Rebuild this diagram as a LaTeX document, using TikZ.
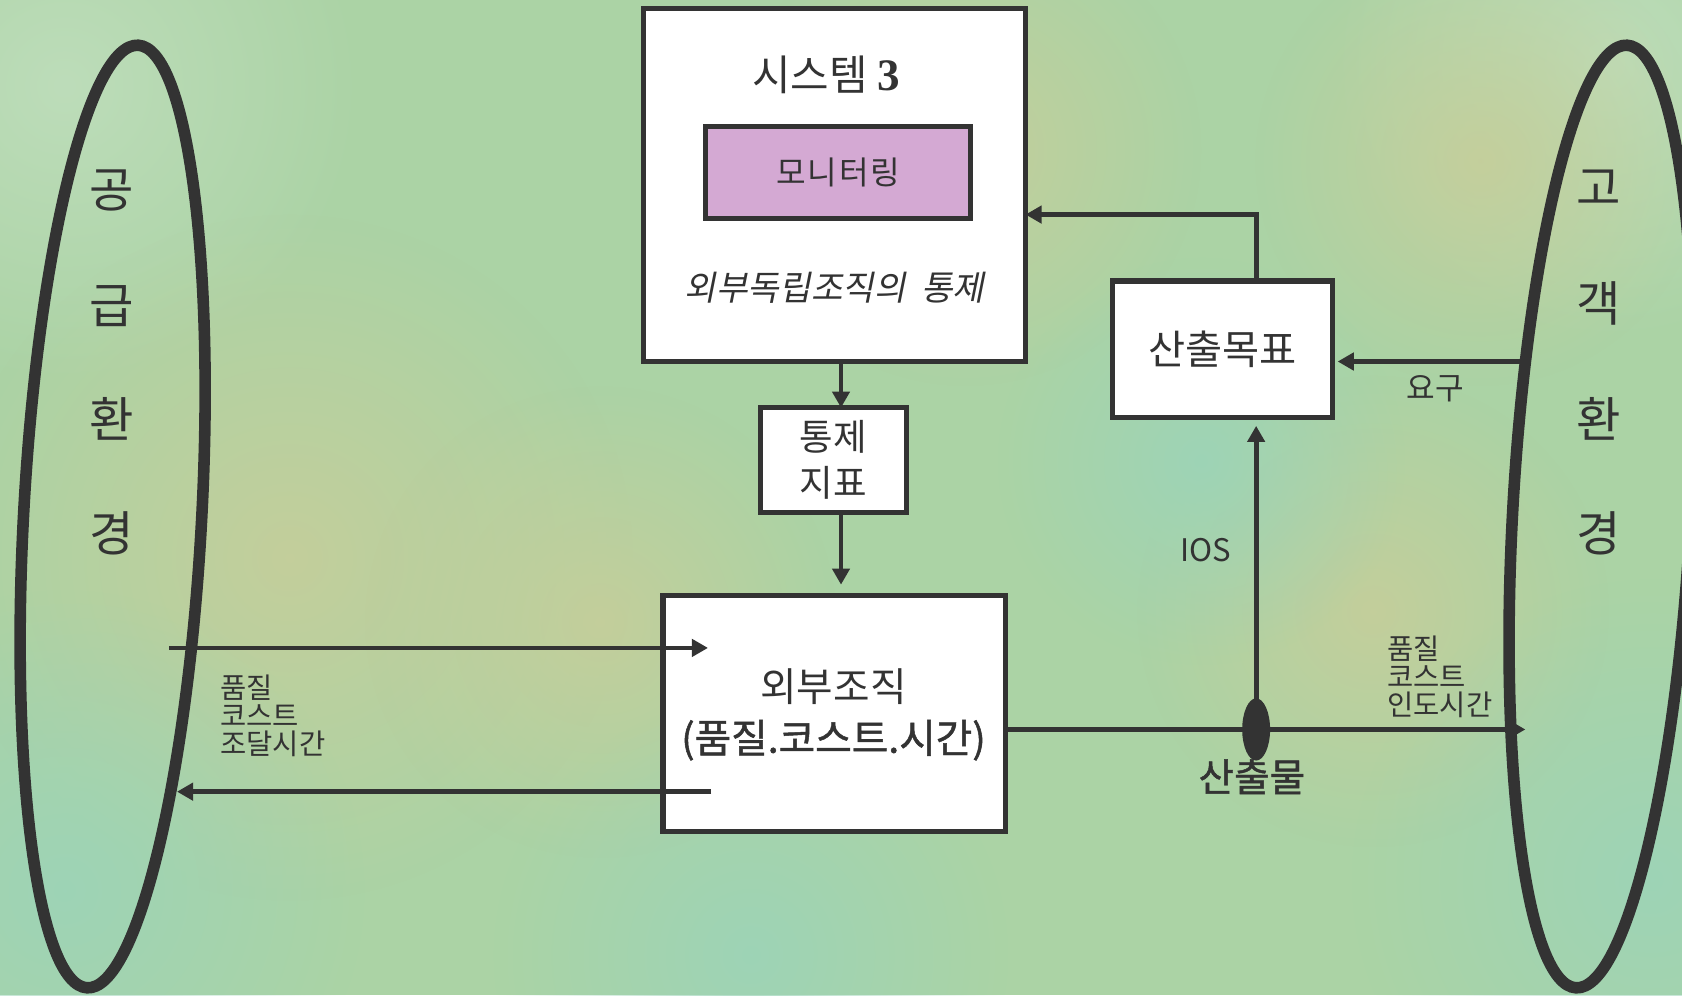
\documentclass[tikz,border=0pt]{standalone}
\usepackage{fontspec}
\newfontfamily\kr{Noto Sans CJK KR}
\newfontfamily\krw[LetterSpace=6]{Noto Sans CJK KR}
\newfontfamily\krb[FakeBold=1.2]{Noto Sans CJK KR}
\newfontfamily\krit[FakeSlant=0.2]{Noto Sans CJK KR}
\newfontfamily\tms{Liberation Serif}
\usetikzlibrary{arrows.meta,shapes.geometric,fadings}
\tikzfading[name=softdot, inner color=transparent!0, outer color=transparent!100]
\definecolor{bg}{HTML}{ABD3A5}
\definecolor{tan}{HTML}{C6CE9A}
\definecolor{pale}{HTML}{BFDEBC}
\definecolor{cyn}{HTML}{9CD4B8}
\definecolor{ink}{HTML}{333333}
\definecolor{mon}{HTML}{D4A9D3}
\begin{document}
\begin{tikzpicture}[x=0.5pt,y=-0.5pt,
  line/.style={draw=ink, line width=2.2pt},
  arr/.style={line, -{Triangle[length=7.5pt,width=8pt]}},
  box/.style={draw=ink, line width=2.4pt, fill=white, inner sep=0pt, outer sep=0pt, text=ink},
  env/.style={draw=ink, line width=5.4pt, ellipse, inner sep=0pt, outer sep=0pt, minimum width=83pt, minimum height=440pt},
  txt/.style={inner sep=0pt, text=ink},
  patch/.style={path fading=softdot, fill opacity=0.9}
]
\useasboundingbox (0,0) rectangle (1568,928);
% background
\fill[bg] (0,0) rectangle (1568,928);
\fill[pale, patch] (60,80) circle (280);
\fill[pale, patch] (1500,60) circle (260);
\fill[tan, patch] (270,520) circle (320);
\fill[tan, patch] (560,580) circle (220);
\fill[tan, patch] (900,140) circle (220);
\fill[tan, patch] (1380,150) circle (210);
\fill[tan, patch] (1280,570) circle (220);
\fill[cyn, patch] (60,830) circle (280);
\fill[cyn, patch] (1540,820) circle (280);
\fill[cyn, patch] (1120,430) circle (190);
\fill[cyn, patch] (700,890) circle (240);

% environments
\node[env, rotate=-3.1] (supply) at (105,481.5) {};
\node[env, rotate=-3.1] (customer) at (1493,481.5) {};

% boxes
\node[box, minimum width=178pt, minimum height=164.5pt] (sys3) at (778,172.5) {};
\node[box, fill=mon, minimum width=123.5pt, minimum height=43pt,
      font={\krw\fontsize{15}{17}\selectfont}] (mon) at (781.5,161) {모니터링};
\node[box, minimum width=68pt, minimum height=49pt, align=center,
      font={\kr\fontsize{17}{21.5}\selectfont}] (tj) at (777,429) {통제\\지표};
\node[box, minimum width=159.5pt, minimum height=110pt] (oebu) at (777.5,665) {};
\node[box, minimum width=102.5pt, minimum height=63.5pt,
      font={\kr\fontsize{18.8}{21}\selectfont}] (target) at (1139.5,325.5) {산출목표};

% coordinates
\coordinate (vx) at (784,0);
\coordinate (fb) at (1171,200);
\coordinate (req) at (1420,337);
\coordinate (rend) at (1422,680);
\coordinate (lin) at (158,604);
\coordinate (linE) at (660,604);
\coordinate (lbS) at (663,738);
\coordinate (lbE) at (165,738);
\coordinate (out) at (1171,680);

% connectors
\draw[arr] (sys3.south -| vx) -- (tj.north -| vx);
\draw[arr, shorten >=5pt] (tj.south -| vx) -- (oebu.north -| vx);
\draw[arr] (target.north -| fb) |- (sys3.east |- fb);
\draw[arr, shorten >=2.5pt] (req) -- (target.east |- req);
\draw[arr] (oebu.east |- out) -- (rend);
\draw[arr, shorten >=4pt] (out) -- (target.south -| out);
\draw[arr] (lin) -- (linE);
\draw[arr] (lbS) -- (lbE);
\node[fill=ink, ellipse, minimum width=13pt, minimum height=29pt, inner sep=0pt] (blob) at (out) {};

% texts
\node[txt, font={\kr\fontsize{19.5}{22}\selectfont}] (t3) at (770,70) {시스템 {\tms\bfseries\fontsize{21}{22}\selectfont 3}};
\node[txt, font={\krit\fontsize{16}{18}\selectfont}] (tctl) at (778,268) {외부독립조직의\hspace{0.45em}통제};
\node[txt, align=center, font={\kr\fontsize{18.5}{24}\selectfont}] (oebuT) at (777,666) {외부조직\\{\krb (품질.코스트.시간)}};
\node[txt, font={\krb\fontsize{18}{20}\selectfont}] (outT) at (1167,724) {산출물};
\node[txt, font={\kr\fontsize{14.5}{17}\selectfont}] (ios) at (1124,513) {IOS};
\node[txt, font={\kr\fontsize{14.5}{16}\selectfont}] (reqT) at (1338,362) {요구};
\node[txt, anchor=west, align=left, font={\kr\fontsize{13.3}{13}\selectfont}] (lab1) at (205,667) {품질\\코스트\\조달시간};
\node[txt, anchor=west, align=left, font={\kr\fontsize{13.3}{13}\selectfont}] (lab2) at (1293,631) {품질\\코스트\\인도시간};
\foreach \c/\y in {공/178,급/285,환/390,경/497}
  \node[txt, font={\kr\fontsize{22.5}{24}\selectfont}] at (104,\y) {\c};
\foreach \c/\y in {고/175,객/283,환/390,경/497}
  \node[txt, font={\kr\fontsize{22.5}{24}\selectfont}] at (1490,\y) {\c};
\end{tikzpicture}
\end{document}
